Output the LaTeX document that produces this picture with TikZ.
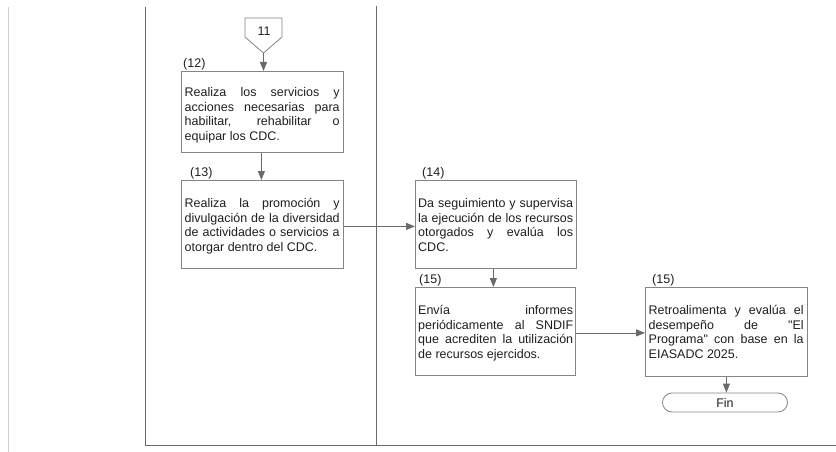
\documentclass[tikz,border=0pt]{standalone}
\usepackage{fontspec}
\setmainfont{Liberation Sans}[Ligatures=TeXOff]
\usetikzlibrary{arrows.meta}
\setlength{\parindent}{0pt}
\tolerance=10000
\hbadness=10000
\definecolor{lanegray}{HTML}{6A6A6A}
\definecolor{boxgray}{HTML}{858585}
\definecolor{faintgray}{HTML}{D0D0D0}
\definecolor{inkc}{HTML}{1E1E1E}
\newcommand{\bodyfont}{\fontsize{12.5}{14.7}\selectfont}
\newcommand{\firststrut}{\rule{0pt}{12.5pt}}
\begin{document}
\begin{tikzpicture}[x=1pt,y=-1pt,
  laneline/.style={draw=lanegray,line width=0.9pt},
  procbox/.style={draw=boxgray,line width=0.8pt,anchor=north west,inner sep=0pt,minimum width=#1,minimum height=88pt},
  boxtext/.style={anchor=north west,inner sep=0pt,text width=155pt,align=justify,font=\bodyfont,text=inkc},
  steplabel/.style={anchor=base west,inner sep=0pt,font=\bodyfont,text=inkc},
  flowarrow/.style={draw=lanegray,line width=0.8pt,-{Triangle[width=7pt,length=9pt]},color=lanegray},
  endbox/.style={draw=boxgray,line width=0.8pt,rounded corners=9.5pt,minimum width=125pt,minimum height=19pt,inner sep=0pt,font=\bodyfont,text=inkc}
]
\useasboundingbox (0,0) rectangle (836,452);

% frame lines
\draw[draw=faintgray,line width=0.8pt] (8,7) -- (8,452);
\draw[laneline] (145.5,7) -- (145.5,445) -- (836,445);
\draw[laneline] (376,6) -- (376,445);

% off-page connector 11
\draw[draw=boxgray,line width=0.8pt,fill=white] (245,18) -- (282,18) -- (282,37) -- (263.5,53) -- (245,37) -- cycle;
\node[font=\bodyfont,text=inkc,inner sep=0pt] (c11) at (264,31) {11};
\coordinate (c11tip) at (263.5,53);

% step 12
\node[procbox=162pt,minimum height=81pt] (b12) at (181,71) {};
\node[steplabel] (l12) at (183,68) {(12)};
\node[boxtext] (t12) at (184.5,83.8) {\firststrut Realiza los servicios y\linebreak acciones necesarias para\linebreak habilitar, rehabilitar o\linebreak equipar los CDC.};

% step 13
\node[procbox=162pt] (b13) at (181,180) {};
\node[steplabel] (l13) at (190,176) {(13)};
\node[boxtext] (t13) at (184.5,194.8) {\firststrut Realiza la promoción y\linebreak divulgación de la diversidad\linebreak de actividades o servicios a\linebreak otorgar dentro del CDC.};

% step 14
\node[procbox=161pt] (b14) at (415,180) {};
\node[steplabel] (l14) at (422,176.5) {(14)};
\node[boxtext] (t14) at (418,194.8) {\firststrut Da seguimiento y supervisa\linebreak la ejecución de los recursos\linebreak otorgados y evalúa los\linebreak CDC.};

% step 15
\node[procbox=160pt] (b15) at (415,287) {};
\node[steplabel] (l15) at (419,283) {(15)};
\node[boxtext] (t15) at (418,301.8) {\firststrut Envía informes\linebreak periódicamente al SNDIF\linebreak que acrediten la utilización\linebreak de recursos ejercidos.};

% step 15 (b)
\node[procbox=162pt,minimum height=89pt] (b15b) at (645,287) {};
\node[steplabel] (l15b) at (652,283) {(15)};
\node[boxtext] (t15b) at (648.5,301.8) {\firststrut Retroalimenta y evalúa el\linebreak desempeño de "El\linebreak Programa" con base en la\linebreak EIASADC 2025.};

% end
\node[endbox] (fin) at (725,402.5) {Fin};

% connectors
\draw[flowarrow] (c11tip) -- (c11tip |- b12.north);
\draw[flowarrow] ([xshift=-1pt]b12.south) -- ([xshift=-1pt]b12.south |- b13.north);
\draw[flowarrow] ([yshift=-2pt]b13.east) -- ([yshift=-2pt]b13.east -| b14.west);
\draw[flowarrow] ([xshift=-2.5pt]b14.south) -- ([xshift=-2.5pt]b14.south |- b15.north);
\draw[flowarrow] ([yshift=-1.5pt]b15.east) -- ([yshift=-1.5pt]b15.east -| b15b.west);
\draw[flowarrow] (b15b.south) -- (b15b.south |- fin.north);
\end{tikzpicture}
\end{document}
